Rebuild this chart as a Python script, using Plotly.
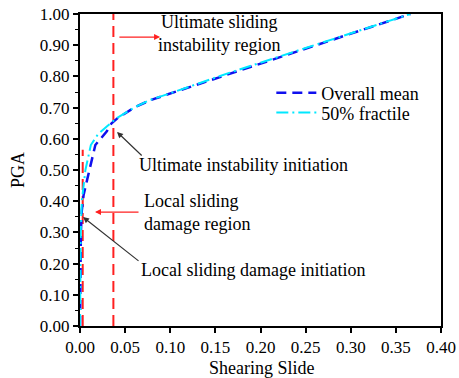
import plotly.graph_objects as go

# Data
mean_x = [0, 0.0005, 0.0003, 0.001, 0.002, 0.004, 0.008, 0.011, 0.017, 0.0295, 0.035, 0.042, 0.06, 0.078, 0.1, 0.166, 0.25, 0.366]
mean_y = [0, 0.10, 0.20, 0.30, 0.37, 0.42, 0.47, 0.51, 0.58, 0.623, 0.65, 0.667, 0.70, 0.724, 0.745, 0.81, 0.89, 1.0]

frac_x = [0, 0.0003, 0.0001, 0.0008, 0.002, 0.006, 0.012, 0.02, 0.03, 0.04, 0.06, 0.078, 0.1, 0.166, 0.25, 0.366]
frac_y = [0, 0.10, 0.20, 0.30, 0.40, 0.50, 0.58, 0.615, 0.64, 0.665, 0.70, 0.725, 0.746, 0.812, 0.891, 1.0]

local_x = 0.003      # local sliding damage initiation
local_top = 0.565
ult_x = 0.037        # ultimate instability initiation
ult_top = 1.0

x_ticks = [0.00, 0.05, 0.10, 0.15, 0.20, 0.25, 0.30, 0.35, 0.40]
y_ticks = [0.0, 0.1, 0.2, 0.3, 0.4, 0.5, 0.6, 0.7, 0.8, 0.9, 1.0]

FONT = "Liberation Serif"
fig = go.Figure()

red_dash = dict(color="#ff2020", width=2, dash="11px,6px")
fig.add_trace(go.Scatter(x=[local_x, local_x], y=[0, local_top], mode="lines",
                         line=red_dash, showlegend=False, hoverinfo="skip"))
fig.add_trace(go.Scatter(x=[ult_x, ult_x], y=[0, ult_top], mode="lines",
                         line=red_dash, showlegend=False, hoverinfo="skip"))

fig.add_trace(go.Scatter(x=mean_x, y=mean_y, mode="lines", name="Overall mean", legend="legend",
                         line=dict(color="#1010ee", width=2.5, dash="10px,6px")))
fig.add_trace(go.Scatter(x=frac_x, y=frac_y, mode="lines", name="50% fractile", legend="legend2",
                         line=dict(color="#00e8ff", width=2, dash="12px,4px,2px,4px")))

ann_font = dict(family=FONT, size=18, color="black")
annos = [
    dict(x=0.1545, y=0.9375, xref="x", yref="y", text="Ultimate sliding<br>instability region",
         showarrow=False, font=ann_font, align="center", xanchor="center", yanchor="middle"),
    dict(x=0.0887, y=0.926, ax=0.042, ay=0.926, xref="x", yref="y", axref="x", ayref="y",
         text="", showarrow=True, arrowhead=2, arrowsize=1, arrowwidth=1.2, arrowcolor="#ff2020"),
    dict(x=0.063, y=0.516, xref="x", yref="y", text="Ultimate instability initiation",
         showarrow=False, font=ann_font, xanchor="left", yanchor="middle"),
    dict(x=0.041, y=0.622, ax=0.070, ay=0.542, xref="x", yref="y", axref="x", ayref="y",
         text="", showarrow=True, arrowhead=2, arrowsize=1, arrowwidth=1.2, arrowcolor="#333333"),
    dict(x=0.069, y=0.365, xref="x", yref="y", text="Local sliding<br>damage region",
         showarrow=False, font=ann_font, align="left", xanchor="left", yanchor="middle"),
    dict(x=0.0166, y=0.365, ax=0.0665, ay=0.365, xref="x", yref="y", axref="x", ayref="y",
         text="", showarrow=True, arrowhead=2, arrowsize=1, arrowwidth=1.2, arrowcolor="#ff2020"),
    dict(x=0.065, y=0.179, xref="x", yref="y", text="Local sliding damage initiation",
         showarrow=False, font=ann_font, xanchor="left", yanchor="middle"),
    dict(x=0.0033, y=0.349, ax=0.0665, ay=0.205, xref="x", yref="y", axref="x", ayref="y",
         text="", showarrow=True, arrowhead=2, arrowsize=1, arrowwidth=1.2, arrowcolor="#333333"),
    # axis titles
    dict(x=-0.172, y=0.5, xref="paper", yref="paper", text="PGA", textangle=-90,
         showarrow=False, font=ann_font, xanchor="center", yanchor="middle"),
    dict(x=0.505, y=-0.135, xref="paper", yref="paper", text="Shearing Slide",
         showarrow=False, font=ann_font, xanchor="center", yanchor="middle"),
]

leg_common = dict(xanchor="left", yanchor="middle", bgcolor="rgba(0,0,0,0)",
                  font=dict(family=FONT, size=18), itemwidth=40)
fig.update_layout(
    width=459, height=378,
    margin=dict(l=80, r=18, t=14, b=52),
    paper_bgcolor="white", plot_bgcolor="white",
    font=dict(family=FONT, size=17, color="black"),
    annotations=annos,
    legend=dict(x=0.53, y=0.747, **leg_common),
    legend2=dict(x=0.53, y=0.683, **leg_common),
)
fig.update_xaxes(range=[0, 0.40], tickvals=x_ticks, ticktext=[f"{v:.2f}" for v in x_ticks],
                 showline=True, linecolor="black", linewidth=2, mirror=True,
                 ticks="outside", ticklen=5, tickwidth=1.5, tickcolor="black",
                 showgrid=False, zeroline=False, automargin=False, ticklabeloverflow="allow",
                 tickfont=dict(family=FONT, size=17))
fig.update_yaxes(range=[0, 1.0], tickvals=y_ticks, ticktext=[f"{v:.2f}" for v in y_ticks],
                 showline=True, linecolor="black", linewidth=2, mirror=True,
                 ticks="outside", ticklen=5, tickwidth=1.5, tickcolor="black",
                 minor=dict(dtick=0.05, ticks="outside", ticklen=3, tickcolor="black", tickwidth=1),
                 showgrid=False, zeroline=False, automargin=False, ticklabeloverflow="allow",
                 tickfont=dict(family=FONT, size=17))

# remove the default 8px page margin so the figure fills the window exactly
fig.write_html("out.html", config={"displayModeBar": False},
               post_script="document.body.style.margin='0';")
